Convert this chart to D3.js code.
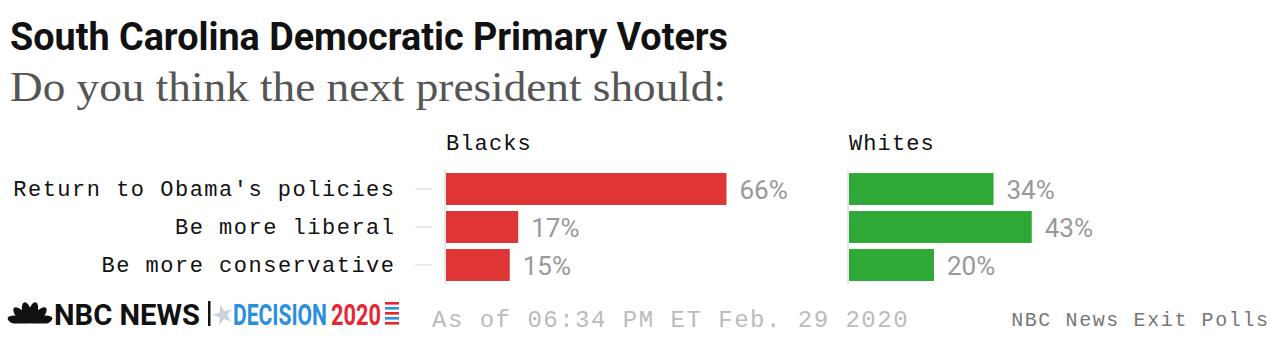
<!DOCTYPE html>
<html><head><meta charset="utf-8">
<script src="https://cdn.jsdelivr.net/npm/d3@7"></script>
<style>body{margin:0;background:#fff}svg{display:block}</style>
</head><body>
<svg id="c" width="1280" height="350"></svg>
<script>
const title = "South Carolina Democratic Primary Voters";
const subtitle = "Do you think the next president should:";
const categories = ["Return to Obama's policies", "Be more liberal", "Be more conservative"];
const groups = ["Blacks", "Whites"];
const blacksValues = [66, 17, 15];
const whitesValues = [34, 43, 20];
const groupColors = ["#e03535", "#2ea836"];
const footnote = "As of 06:34 PM ET Feb. 29 2020";
const source = "NBC News Exit Polls";

const svg = d3.select("#c");
const mono = "'Liberation Mono', 'DejaVu Sans Mono', monospace";

svg.append("text").attr("x", 10).attr("y", 50)
  .attr("font-family", "Roboto, 'Liberation Sans', sans-serif").attr("font-weight", 700)
  .attr("font-size", 38).attr("fill", "#111")
  .attr("textLength", 718).attr("lengthAdjust", "spacingAndGlyphs").text(title);
svg.append("text").attr("x", 10).attr("y", 101)
  .attr("font-family", "'Liberation Serif', 'DejaVu Serif', serif")
  .attr("font-size", 43).attr("fill", "#555")
  .attr("textLength", 716).attr("lengthAdjust", "spacingAndGlyphs").text(subtitle);

const y = d3.scaleBand().domain(categories).range([170, 284]).paddingInner(0.16).paddingOuter(0.08);
const panels = [
  {name: groups[0], values: blacksValues, x0: 446, color: groupColors[0]},
  {name: groups[1], values: whitesValues, x0: 849, color: groupColors[1]}
];

const yAxis = d3.axisLeft(y).tickSize(17).tickPadding(21);
const ag = svg.append("g").attr("transform", "translate(432,0)").call(yAxis);
ag.select(".domain").remove();
ag.selectAll(".tick line").attr("stroke", "#e2e2e2").attr("stroke-width", 1.5);
ag.selectAll(".tick text").attr("font-family", mono).attr("font-size", 22)
  .attr("letter-spacing", 1.5).attr("fill", "#111").attr("dy", "0.33em").attr("dx", 1.5);

panels.forEach(p => {
  const x = d3.scaleLinear().domain([0, 100]).range([p.x0, p.x0 + 425]);
  svg.append("text").attr("x", p.x0).attr("y", 150)
    .attr("font-family", mono).attr("font-size", 22).attr("letter-spacing", 1.1)
    .attr("fill", "#111").text(p.name);
  svg.append("line").attr("x1", p.x0 - 1).attr("x2", p.x0 - 1).attr("y1", 170).attr("y2", 284)
    .attr("stroke", "#e2e2e2").attr("stroke-width", 1.5);
  const data = categories.map((c, i) => ({c, v: p.values[i]}));
  svg.selectAll(null).data(data).enter().append("rect")
    .attr("x", x(0)).attr("y", d => y(d.c)).attr("width", d => x(d.v) - x(0))
    .attr("height", y.bandwidth()).attr("fill", p.color);
  svg.selectAll(null).data(data).enter().append("text")
    .attr("x", d => x(d.v) + 13).attr("y", d => y(d.c) + y.bandwidth() / 2)
    .attr("dy", "0.37em").attr("font-family", "Roboto, 'Liberation Sans', sans-serif")
    .attr("font-size", 26).attr("fill", "#999").text(d => d.v + "%");
});

// footer logo
const logo = svg.append("g");
const pc = logo.append("g").attr("transform", "translate(30,325)");
[-72, -43, -14, 14, 43, 72].forEach(a => {
  pc.append("ellipse").attr("cx", 0).attr("cy", -12.5).attr("rx", 4.6).attr("ry", 11)
    .attr("fill", "#111").attr("transform", `rotate(${a})`);
});
pc.append("rect").attr("x", -25).attr("y", -1.5).attr("width", 50).attr("height", 4).attr("fill", "#fff");

function squeezed(txt, x, w, color) {
  const g = logo.append("g");
  const t = g.append("text").attr("x", 0).attr("y", 0).attr("font-family", "Roboto, sans-serif")
    .attr("font-weight", 700).attr("font-size", 30).attr("fill", color).text(txt);
  const nat = t.node().getComputedTextLength();
  g.attr("transform", `translate(${x},325) scale(${w / nat},1)`);
}
squeezed("NBC NEWS", 54, 146, "#111");
logo.append("rect").attr("x", 208).attr("y", 301).attr("width", 2.5).attr("height", 25).attr("fill", "#111");
logo.append("path").attr("d", d3.symbol(d3.symbolStar, 130)()).attr("transform", "translate(223,315) rotate(-15)")
  .attr("fill", "#c9d3dc");
squeezed("DECISION", 233, 94, "#2a8fdc");
squeezed("2020", 331, 50, "#e8262f");
[0, 1, 2, 3, 4].forEach(i => {
  logo.append("rect").attr("x", 385).attr("y", 302 + i * 5).attr("width", 14).attr("height", 2.6)
    .attr("fill", i % 2 ? "#2a8fdc" : "#e8262f");
});

svg.append("text").attr("x", 432).attr("y", 327).attr("font-family", mono).attr("font-size", 24)
  .attr("letter-spacing", 1.5).attr("fill", "#bbb").text(footnote);
svg.append("text").attr("x", 1268).attr("y", 326).attr("text-anchor", "end").attr("font-family", mono)
  .attr("font-size", 20).attr("letter-spacing", 1.6).attr("dx", 1.6).attr("fill", "#777").text(source);
</script>
</body></html>
